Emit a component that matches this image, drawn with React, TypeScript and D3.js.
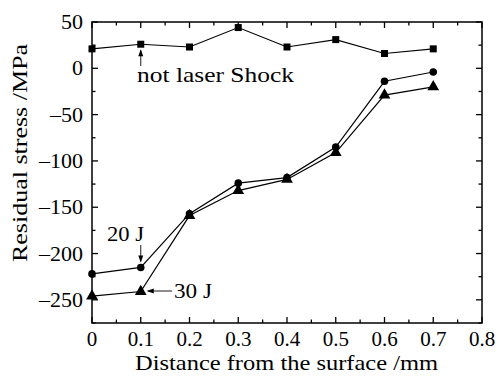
import React from "react";
import * as d3 from "d3";

const depths = [0, 0.1, 0.2, 0.3, 0.4, 0.5, 0.6, 0.7];
const notShock = [21, 26, 23, 44, 23, 31, 16, 21];
const j20 = [-222, -215, -157, -124, -118, -85, -14, -4];
const j30 = [-246, -241, -159, -132, -120, -91, -29, -20];
const xTicks = [0, 0.1, 0.2, 0.3, 0.4, 0.5, 0.6, 0.7, 0.8];
const yTicks = [50, 0, -50, -100, -150, -200, -250];

const W = 499, H = 376;
const m = { l: 92, r: 17, t: 22, b: 53 };
const FONT = "'Liberation Serif', 'DejaVu Serif', serif";

export default function App() {
  const x = d3.scaleLinear().domain([0, 0.8]).range([m.l, W - m.r]);
  const y = d3.scaleLinear().domain([-275, 50]).range([H - m.b, m.t]);
  const line = d3.line<number>().x((_, i) => x(depths[i])).y((d) => y(d));
  const x0 = x(0), x1 = x(0.8), y0 = y(-275), y1 = y(50);
  const xMinor = d3.range(0, 0.8001, 0.05);
  const yMinor = d3.range(-275, 50.001, 25);
  const fmt = (v: number) => (v < 0 ? "\u2013" + Math.abs(v) : String(v));
  const tri = d3.symbol(d3.symbolTriangle, 60)()!;
  const xa = x(0.1);
  return (
    <svg width={W} height={H} style={{ position: "absolute", left: 0, top: 0, background: "#fff" }}>
      <g stroke="#000" strokeWidth={1.3}>
        {xMinor.map((v, i) => {
          const len = Math.abs(Math.round(v * 100) % 10) === 0 ? 6 : 3.5;
          return (
            <g key={"xt" + i}>
              <line x1={x(v)} x2={x(v)} y1={y0} y2={y0 - len} />
              <line x1={x(v)} x2={x(v)} y1={y1} y2={y1 + len} />
            </g>
          );
        })}
        {yMinor.map((v, i) => {
          const len = Math.round(v) % 50 === 0 ? 6 : 3.5;
          return (
            <g key={"yt" + i}>
              <line x1={x0} x2={x0 + len} y1={y(v)} y2={y(v)} />
              <line x1={x1} x2={x1 - len} y1={y(v)} y2={y(v)} />
            </g>
          );
        })}
        <rect x={x0} y={y1} width={x1 - x0} height={y0 - y1} fill="none" strokeWidth={1.5} />
      </g>
      <g fontFamily={FONT} fontSize={21} fill="#000">
        {xTicks.map((v) => (
          <text key={"xl" + v} x={x(v)} y={y0 + 23} textAnchor="middle">{String(v)}</text>
        ))}
        {yTicks.map((v) => (
          <text key={"yl" + v} x={x0 - 9} y={y(v) + 7} textAnchor="end" fontSize={22}>{fmt(v)}</text>
        ))}
        <text x={135} y={370} textLength={303} lengthAdjust="spacingAndGlyphs">Distance from the surface /mm</text>
        <text transform="translate(27,262) rotate(-90)" textLength={218} lengthAdjust="spacingAndGlyphs" fontSize={22}>Residual stress /MPa</text>
        <text x={137} y={82} textLength={157} lengthAdjust="spacingAndGlyphs" fontSize={22}>not laser Shock</text>
        <text x={107} y={241} textLength={37} lengthAdjust="spacingAndGlyphs" fontSize={22}>20 J</text>
        <text x={174} y={298} textLength={38} lengthAdjust="spacingAndGlyphs" fontSize={22}>30 J</text>
      </g>
      <g fill="none" stroke="#000" strokeWidth={1.2}>
        <path d={line(notShock)!} />
        <path d={line(j20)!} />
        <path d={line(j30)!} />
      </g>
      <g fill="#000">
        {notShock.map((v, i) => (
          <rect key={"s" + i} x={x(depths[i]) - 3.5} y={y(v) - 3.5} width={7} height={7} />
        ))}
        {j20.map((v, i) => (
          <circle key={"c" + i} cx={x(depths[i])} cy={y(v)} r={3.8} />
        ))}
        {j30.map((v, i) => (
          <path key={"t" + i} d={tri} transform={`translate(${x(depths[i])},${y(v)})`} />
        ))}
      </g>
      <g stroke="#000" strokeWidth={0.9} fill="#000">
        <line x1={xa} x2={xa} y1={66} y2={y(26) + 6} />
        <path d={`M${xa},${y(26) + 5} l-2.5,7 l5,0 z`} stroke="none" />
        <line x1={xa} x2={xa} y1={245} y2={y(-215) - 6} />
        <path d={`M${xa},${y(-215) - 5} l-2.5,-7 l5,0 z`} stroke="none" />
        <line x1={172} x2={xa + 7} y1={291} y2={291} />
        <path d={`M${xa + 6},291 l7,-2.5 l0,5 z`} stroke="none" />
      </g>
    </svg>
  );
}
